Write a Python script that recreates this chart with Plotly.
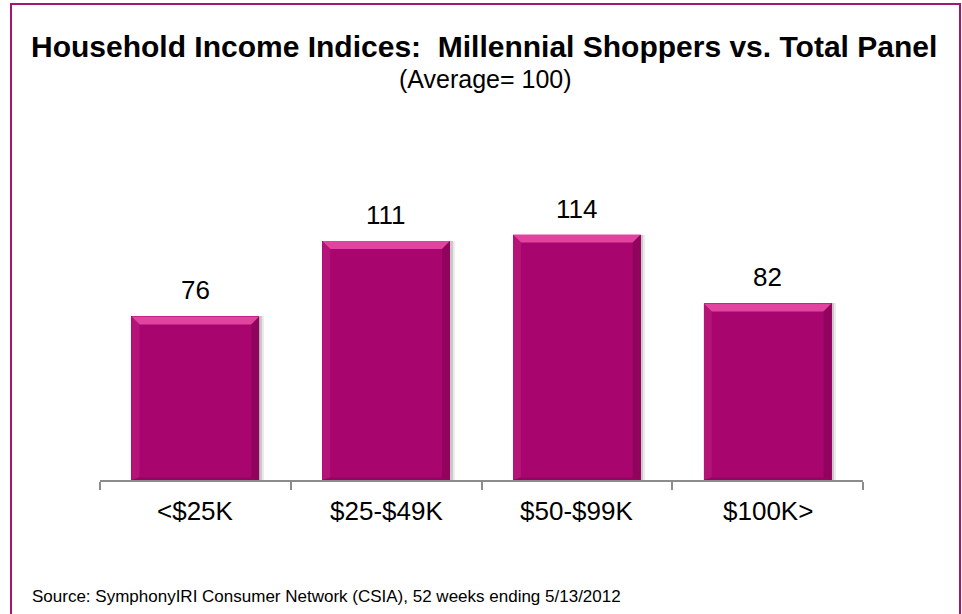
import plotly.graph_objects as go

# Household income index by bracket (average = 100)
categories = ["<$25K", "$25-$49K", "$50-$99K", "$100K>"]
index_values = [76, 111, 114, 82]

title_text = "<b>Household Income Indices:  Millennial Shoppers vs. Total Panel</b>"
subtitle_text = "(Average= 100)"
source_text = "Source: SymphonyIRI Consumer Network (CSIA), 52 weeks ending 5/13/2012"

FONT = "Liberation Sans, Arial, sans-serif"
BAR = "#A8066E"
BAR_LIGHT = "#E0449F"
BAR_DARK = "#7E0452"
FRAME = "#A5176E"

W, H = 962, 614
M_L, M_R, M_T, M_B = 100, 99, 170, 134
plot_w = W - M_L - M_R
plot_h = H - M_T - M_B
Y_MAX = 144
BAR_W = 0.67

xs = list(range(len(categories)))

fig = go.Figure()

# soft drop shadow behind each bar (two layers for a blurred edge)
for off, alpha in ((0.024, 0.08), (0.014, 0.14)):
    fig.add_trace(go.Bar(
        x=[x + off for x in xs], y=index_values, width=BAR_W,
        marker=dict(color=f"rgba(0,0,0,{alpha})", line=dict(width=0)),
        hoverinfo="skip", showlegend=False,
    ))
fig.add_trace(go.Bar(
    x=xs, y=index_values, width=BAR_W,
    marker=dict(color=BAR, line=dict(width=0)),
    showlegend=False,
))

# bevel edges of each bar
bx = 8 / plot_w * (len(categories))       # bevel width in x units
by = 8 / plot_h * Y_MAX                   # bevel height in y units
shapes = []
for x, v in zip(xs, index_values):
    l, r = x - BAR_W / 2, x + BAR_W / 2
    top = f"M {l} {v} L {r} {v} L {r - bx} {v - by} L {l + bx} {v - by} Z"
    right = f"M {r} {v} L {r} 0 L {r - bx} {by * 0.3} L {r - bx} {v - by} Z"
    left = f"M {l} {v} L {l + bx} {v - by} L {l + bx} {by * 0.3} L {l} 0 Z"
    bottom = f"M {l} 0 L {r} 0 L {r - bx} {by * 0.3} L {l + bx} {by * 0.3} Z"
    shapes += [
        dict(type="path", path=top, xref="x", yref="y", fillcolor=BAR_LIGHT, line=dict(width=0), layer="above"),
        dict(type="path", path=right, xref="x", yref="y", fillcolor=BAR_DARK, opacity=0.55, line=dict(width=0), layer="above"),
        dict(type="path", path=left, xref="x", yref="y", fillcolor="#C0207F", opacity=0.5, line=dict(width=0), layer="above"),
        dict(type="path", path=bottom, xref="x", yref="y", fillcolor=BAR_DARK, opacity=0.5, line=dict(width=0), layer="above"),
    ]

# outer frame
def px_x(p):
    return (p - M_L) / plot_w

def px_y(p):
    return (H - M_B - p) / plot_h

shapes.append(dict(
    type="rect", xref="paper", yref="paper",
    x0=px_x(11), x1=px_x(960), y0=px_y(H + 10), y1=px_y(4),
    line=dict(color=FRAME, width=2), fillcolor="rgba(0,0,0,0)", layer="below",
))

annotations = []
for x, v in zip(xs, index_values):
    annotations.append(dict(
        x=x, y=v, xref="x", yref="y", text=str(v), showarrow=False,
        yanchor="bottom", yshift=9, font=dict(family=FONT, size=26, color="#000000"),
    ))
for x, c in zip(xs, categories):
    annotations.append(dict(
        x=x, y=0, xref="x", yref="y", text=c, showarrow=False,
        yanchor="top", yshift=-14, font=dict(family=FONT, size=26, color="#000000"),
    ))
annotations += [
    dict(x=px_x(484), y=px_y(46), xref="paper", yref="paper", text=title_text, showarrow=False,
         xanchor="center", yanchor="middle", font=dict(family=FONT, size=30, color="#000000")),
    dict(x=px_x(485), y=px_y(79), xref="paper", yref="paper", text=subtitle_text, showarrow=False,
         xanchor="center", yanchor="middle", font=dict(family=FONT, size=25, color="#000000")),
    dict(x=px_x(30), y=px_y(596), xref="paper", yref="paper", text=source_text, showarrow=False,
         xanchor="left", yanchor="middle", font=dict(family=FONT, size=17, color="#000000")),
]

fig.update_layout(
    width=W, height=H,
    margin=dict(l=M_L, r=M_R, t=M_T, b=M_B, pad=0),
    paper_bgcolor="white", plot_bgcolor="white",
    barmode="overlay", bargap=0,
    shapes=shapes, annotations=annotations,
    showlegend=False,
    xaxis=dict(
        range=[-0.5, len(categories) - 0.5],
        tickvals=[i - 0.5 for i in range(len(categories) + 1)],
        showticklabels=False, ticks="outside", ticklen=8, tickcolor="#8C8C8C", tickwidth=1.5,
        showline=True, linecolor="#8C8C8C", linewidth=1.5,
        showgrid=False, zeroline=False, fixedrange=True,
    ),
    yaxis=dict(range=[0, Y_MAX], visible=False, showgrid=False, zeroline=False, fixedrange=True),
)

fig.write_html("out.html", config={"displayModeBar": False})
